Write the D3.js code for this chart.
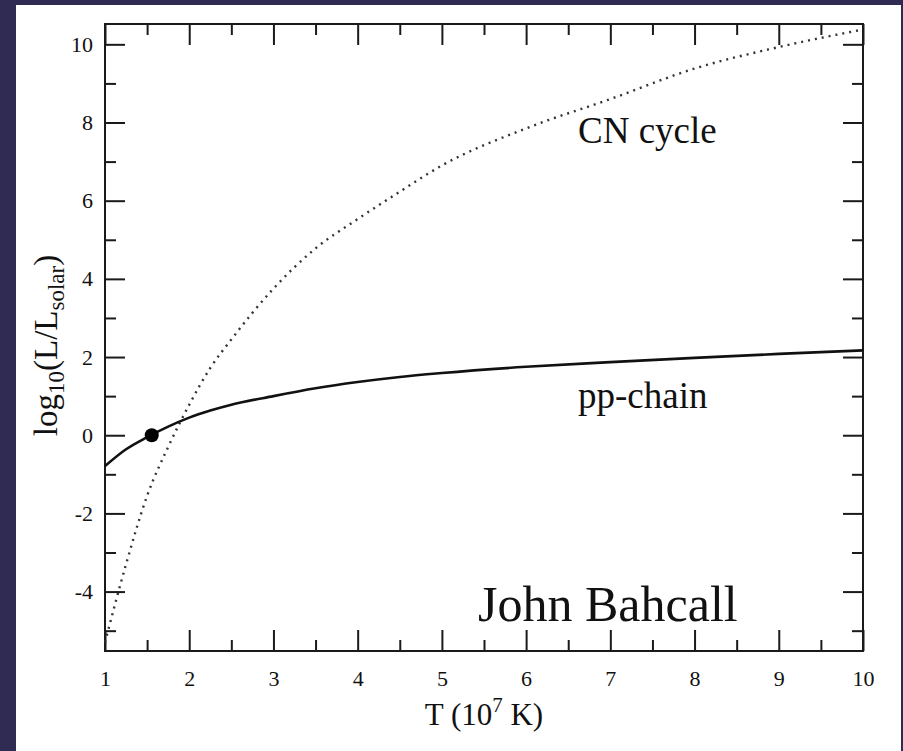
<!DOCTYPE html>
<html>
<head>
<meta charset="utf-8">
<script src="https://cdn.jsdelivr.net/npm/d3@7"></script>
<style>
  html, body { margin: 0; padding: 0; background: #2f2b52; }
  svg { display: block; }
  text { font-family: "Liberation Serif", "Times New Roman", serif; fill: #111; }
</style>
</head>
<body>
<svg id="chart" width="903" height="751"></svg>
<script>
// Temperature grid (units of 10^7 K)
const temps = [1, 1.25, 1.5, 1.75, 2, 2.25, 2.5, 3, 3.5, 4, 4.5, 5, 6, 7, 8, 9, 10];
// log10(L / L_solar) for each burning process
const cnCycle = [-5.3, -3.3, -1.55, -0.3, 0.78, 1.72, 2.45, 3.75, 4.78, 5.53, 6.23, 6.9, 7.85, 8.6, 9.38, 9.93, 10.38];
const ppChain = [-0.79, -0.36, -0.05, 0.22, 0.45, 0.63, 0.78, 1.0, 1.2, 1.36, 1.49, 1.59, 1.75, 1.87, 1.98, 2.08, 2.17];
// The Sun's present position
const sunPoint = { t: 1.555, logL: 0 };

const xMajor = [1, 2, 3, 4, 5, 6, 7, 8, 9, 10];
const xMinor = [1.5, 2.5, 3.5, 4.5, 5.5, 6.5, 7.5, 8.5, 9.5];
const yMajor = [-4, -2, 0, 2, 4, 6, 8, 10];
const yMinor = [-5, -3, -1, 1, 3, 5, 7, 9];

const serif = '"Liberation Serif", "Times New Roman", serif';
const svg = d3.select("#chart");

// white sheet on the dark backdrop
svg.append("rect").attr("x", 16).attr("y", 5).attr("width", 885).attr("height", 746).attr("fill", "#ffffff");

const plotLeft = 105, plotRight = 863, plotTop = 24, plotBottom = 651;
const x = d3.scaleLinear().domain([1, 10]).range([plotLeft, plotRight]);
const y = d3.scaleLinear().domain([-5.52, 10.52]).range([plotBottom, plotTop]);

const axisColor = "#1a1a1a";
const plainNumber = d => String(d);   // hyphen-minus, as on the printed plot
function styleAxis(g) {
  g.attr("font-family", serif);
  g.select(".domain").remove();
  g.selectAll(".tick line").attr("stroke", axisColor).attr("stroke-width", 2);
  g.selectAll(".tick text").attr("font-family", serif).style("font-size", "22px").attr("fill", "#111");
}

// bottom axis: labelled majors and minor ticks, pointing inward
svg.append("g").attr("transform", `translate(0,${plotBottom})`)
  .call(d3.axisBottom(x).tickValues(xMajor).tickSize(-21).tickPadding(19).tickFormat(plainNumber))
  .call(styleAxis);
svg.append("g").attr("transform", `translate(0,${plotBottom})`)
  .call(d3.axisBottom(x).tickValues(xMinor).tickSize(-11).tickFormat(""))
  .call(styleAxis);
// top axis
svg.append("g").attr("transform", `translate(0,${plotTop})`)
  .call(d3.axisTop(x).tickValues(xMajor).tickSize(-21).tickFormat(""))
  .call(styleAxis);
svg.append("g").attr("transform", `translate(0,${plotTop})`)
  .call(d3.axisTop(x).tickValues(xMinor).tickSize(-11).tickFormat(""))
  .call(styleAxis);
// left axis
svg.append("g").attr("transform", `translate(${plotLeft},0)`)
  .call(d3.axisLeft(y).tickValues(yMajor).tickSize(-20).tickPadding(12).tickFormat(plainNumber))
  .call(styleAxis);
svg.append("g").attr("transform", `translate(${plotLeft},0)`)
  .call(d3.axisLeft(y).tickValues(yMinor).tickSize(-11).tickFormat(""))
  .call(styleAxis);
// right axis
svg.append("g").attr("transform", `translate(${plotRight},0)`)
  .call(d3.axisRight(y).tickValues(yMajor).tickSize(-20).tickFormat(""))
  .call(styleAxis);
svg.append("g").attr("transform", `translate(${plotRight},0)`)
  .call(d3.axisRight(y).tickValues(yMinor).tickSize(-11).tickFormat(""))
  .call(styleAxis);

// plot frame
svg.append("rect").attr("x", plotLeft).attr("y", plotTop)
  .attr("width", plotRight - plotLeft).attr("height", plotBottom - plotTop)
  .attr("fill", "none").attr("stroke", axisColor).attr("stroke-width", 2);

const line = d3.line().x((d, i) => x(temps[i])).y(d => y(d)).curve(d3.curveMonotoneX);

// CN cycle (dotted)
svg.append("path").attr("d", line(cnCycle))
  .attr("fill", "none").attr("stroke", "#333").attr("stroke-width", 2.4)
  .attr("stroke-dasharray", "2 5");

// pp-chain (solid)
svg.append("path").attr("d", line(ppChain))
  .attr("fill", "none").attr("stroke", "#111").attr("stroke-width", 2.6);

// the Sun
svg.append("circle").attr("cx", x(sunPoint.t)).attr("cy", y(sunPoint.logL)).attr("r", 7).attr("fill", "#000");

// curve labels
svg.append("text").attr("x", 578).attr("y", 143).style("font-size", "37px").text("CN cycle");
svg.append("text").attr("x", 578).attr("y", 408).style("font-size", "37px").text("pp-chain");
svg.append("text").attr("x", 478).attr("y", 621).style("font-size", "50px").text("John Bahcall");

// x-axis title
const xt = svg.append("text").attr("x", (plotLeft + plotRight) / 2).attr("y", 725)
  .attr("text-anchor", "middle").style("font-size", "31px");
xt.append("tspan").text("T (10");
xt.append("tspan").attr("dy", -13).style("font-size", "21px").text("7");
xt.append("tspan").attr("dy", 13).text(" K)");

// y-axis title
const yt = svg.append("text")
  .attr("transform", `translate(57,${(plotTop + plotBottom) / 2 + 8}) rotate(-90)`)
  .attr("text-anchor", "middle").style("font-size", "33px");
yt.append("tspan").text("log");
yt.append("tspan").attr("dy", 7).style("font-size", "23px").text("10");
yt.append("tspan").attr("dy", -7).text("(L/L");
yt.append("tspan").attr("dy", 7).style("font-size", "23px").text("solar");
yt.append("tspan").attr("dy", -7).text(")");
</script>
</body>
</html>
